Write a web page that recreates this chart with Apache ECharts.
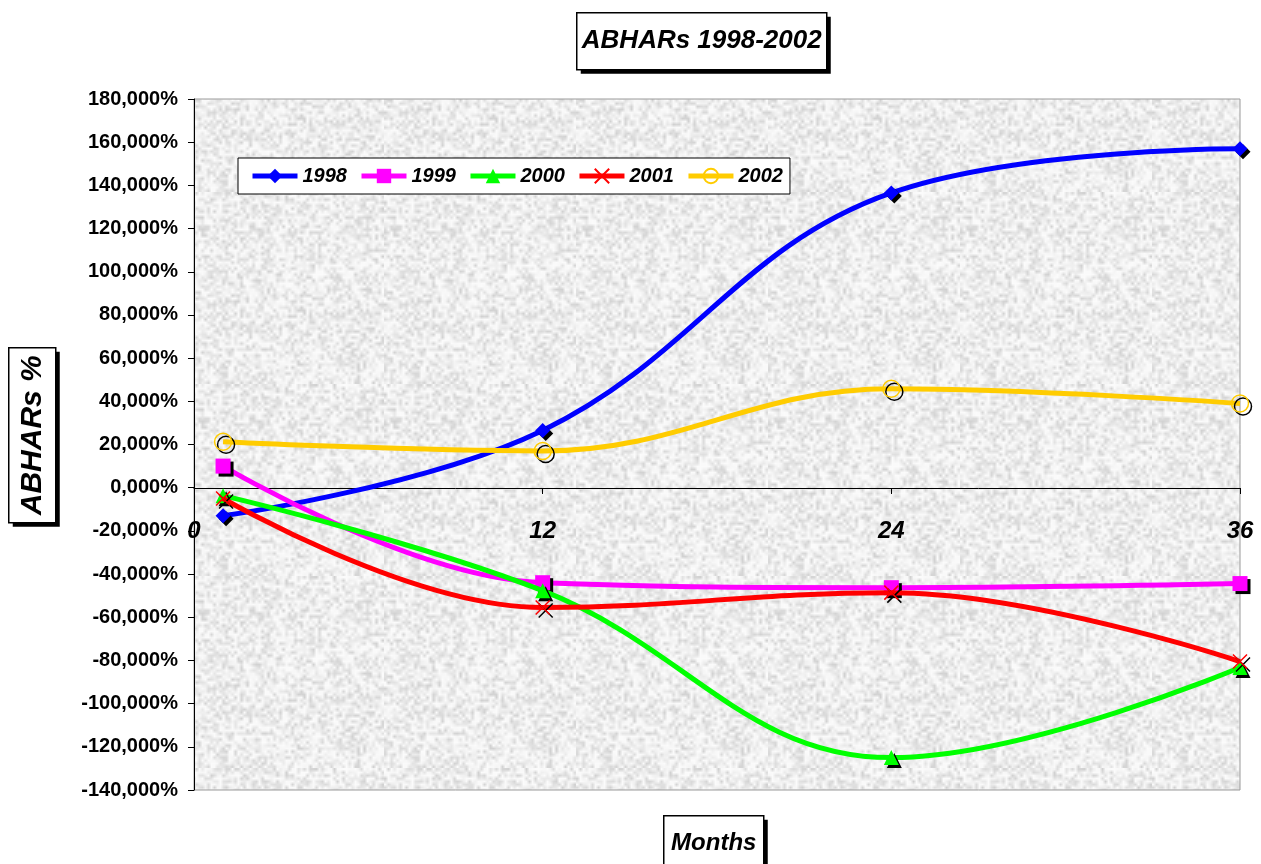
<!DOCTYPE html>
<html>
<head>
<meta charset="utf-8">
<script src="https://cdn.jsdelivr.net/npm/echarts@6/dist/echarts.min.js"></script>
<style>
  html, body { margin: 0; padding: 0; background: #ffffff; }
  #chart { width: 1261px; height: 864px; }
</style>
</head>
<body>
<div id="chart"></div>
<script>
// Months after the event (x values of every series)
const months = [1, 12, 24, 36];
const xTickLabels = ['0', '12', '24', '36'];

// Buy-and-hold abnormal returns per cohort year
const seriesNames = ['1998', '1999', '2000', '2001', '2002'];
const abhar1998 = [-13, 26.5, 136.5, 157];
const abhar1999 = [10, -44, -46.3, -44.4];
const abhar2000 = [-3.7, -47.7, -125, -83.3];
const abhar2001 = [-5, -55.5, -48.6, -80.5];
const abhar2002 = [21.3, 17, 45.8, 39];

// Y tick range and label format
const yMin = -140, yMax = 180, yStep = 20;
const yTickSuffix = ',000%';

const chartTitle = 'ABHARs 1998-2002';
const yAxisTitle = 'ABHARs %';
const xAxisTitle = 'Months';

const mainFont = "'Liberation Sans', Arial, sans-serif";

const values = [abhar1998, abhar1999, abhar2000, abhar2001, abhar2002];
const colors = ['#0000FF', '#FF00FF', '#00FF00', '#FF0000', '#FFCC00'];
const crossPath = 'path://M0,0L10,10M10,0L0,10';
const symbols = ['diamond', 'rect', 'triangle', crossPath, 'circle'];
const symbolSizes = [15, 15, 15, 14, 17];

// Layout of the plotting area
const plotLeft = 194, plotRight = 21, plotTop = 99, plotBottom = 74;
const plotHeight = 864 - plotTop - plotBottom;

// Mottled paper texture for the plot area (deterministic hash noise, softened)
function makeTexture() {
  const n = 64, scale = 3;
  const small = document.createElement('canvas');
  small.width = n; small.height = n;
  const sctx = small.getContext('2d');
  const img = sctx.createImageData(n, n);
  for (let y = 0; y < n; y++) {
    for (let x = 0; x < n; x++) {
      let h = (x * 374761393 + y * 668265263) >>> 0;
      h = ((h ^ (h >>> 13)) * 1274126177) >>> 0;
      h = (h ^ (h >>> 16)) >>> 0;
      const r = (h % 1000) / 1000;
      const v = Math.round(251 - r * r * 42);
      const p = (y * n + x) * 4;
      img.data[p] = v; img.data[p + 1] = v; img.data[p + 2] = v; img.data[p + 3] = 255;
    }
  }
  sctx.putImageData(img, 0, 0);
  const big = document.createElement('canvas');
  big.width = n * scale; big.height = n * scale;
  const bctx = big.getContext('2d');
  bctx.imageSmoothingEnabled = true;
  bctx.drawImage(small, 0, 0, n * scale, n * scale);
  return big;
}

const markerShadow = { shadowColor: '#000', shadowBlur: 0, shadowOffsetX: 3, shadowOffsetY: 3 };

const series = seriesNames.map((name, i) => {
  let itemStyle;
  if (i === 3 || i === 4) {
    itemStyle = Object.assign({ color: 'rgba(0,0,0,0)', borderColor: colors[i], borderWidth: 1.5 }, markerShadow);
  } else {
    itemStyle = Object.assign({ color: colors[i], borderWidth: 0 }, markerShadow);
  }
  return {
    name: name,
    type: 'line',
    smooth: 0.4,
    data: months.map((m, k) => [m, values[i][k]]),
    symbol: symbols[i],
    symbolSize: symbolSizes[i],
    showAllSymbol: true,
    lineStyle: { color: colors[i], width: 5 },
    itemStyle: itemStyle,
    emphasis: { disabled: true },
    z: 2 + i
  };
});

// Boxed caption with a hard drop shadow
function boxedText(left, top, width, height, text, fontSize, rotation) {
  return {
    type: 'group',
    left: left,
    top: top,
    z: 100,
    children: [
      { type: 'rect', shape: { x: 4, y: 4, width: width, height: height }, style: { fill: '#000' } },
      { type: 'rect', shape: { x: 0, y: 0, width: width, height: height }, style: { fill: '#fff', stroke: '#000', lineWidth: 1.5 } },
      {
        type: 'text',
        x: width / 2,
        y: height / 2,
        rotation: rotation || 0,
        style: {
          text: text,
          fill: '#000',
          font: 'italic bold ' + fontSize + 'px ' + mainFont,
          align: 'center',
          verticalAlign: 'middle'
        }
      }
    ]
  };
}

// The category axis crosses the value axis at 0
const zeroOffset = -Math.round(plotHeight * (0 - yMin) / (yMax - yMin));

const chart = echarts.init(document.getElementById('chart'), null, { renderer: 'canvas' });

chart.setOption({
  animation: false,
  backgroundColor: '#ffffff',
  graphic: [
    boxedText(576, 12, 250, 57, chartTitle, 26, 0),
    boxedText(8, 347, 47, 175, yAxisTitle, 30, Math.PI / 2),
    boxedText(663, 815, 100, 56, xAxisTitle, 24, 0)
  ],
  legend: {
    data: seriesNames,
    left: 238,
    top: 158,
    orient: 'horizontal',
    padding: [8, 7, 8, 12],
    itemGap: 12,
    itemWidth: 45,
    itemHeight: 18,
    backgroundColor: '#ffffff',
    borderColor: '#000000',
    borderWidth: 1,
    lineStyle: { width: 5 },
    textStyle: {
      fontFamily: mainFont,
      fontSize: 20,
      fontWeight: 'bold',
      fontStyle: 'italic',
      color: '#000'
    }
  },
  grid: {
    left: plotLeft,
    right: plotRight,
    top: plotTop,
    bottom: plotBottom,
    outerBoundsMode: 'none',
    containLabel: false,
    show: true,
    backgroundColor: { image: makeTexture(), repeat: 'repeat' },
    borderColor: '#9a9a9a',
    borderWidth: 1
  },
  xAxis: {
    type: 'value',
    min: 0,
    max: 36,
    interval: 12,
    position: 'bottom',
    offset: zeroOffset,
    axisLine: { show: true, onZero: false, lineStyle: { color: '#000', width: 1 } },
    axisTick: { show: true, length: 6, lineStyle: { color: '#000' } },
    splitLine: { show: false },
    axisLabel: {
      margin: 31,
      fontFamily: mainFont,
      fontSize: 24,
      fontWeight: 'bold',
      fontStyle: 'italic',
      color: '#000',
      formatter: (v) => xTickLabels[Math.round(v / 12)]
    }
  },
  yAxis: {
    type: 'value',
    min: yMin,
    max: yMax,
    interval: yStep,
    axisLine: { show: true, lineStyle: { color: '#000', width: 1 } },
    axisTick: { show: true, length: 6, lineStyle: { color: '#000' } },
    splitLine: { show: false },
    axisLabel: {
      margin: 16,
      fontFamily: mainFont,
      fontSize: 20,
      fontWeight: 'bold',
      color: '#000',
      formatter: (v) => v + yTickSuffix
    }
  },
  series: series
});
</script>
</body>
</html>
